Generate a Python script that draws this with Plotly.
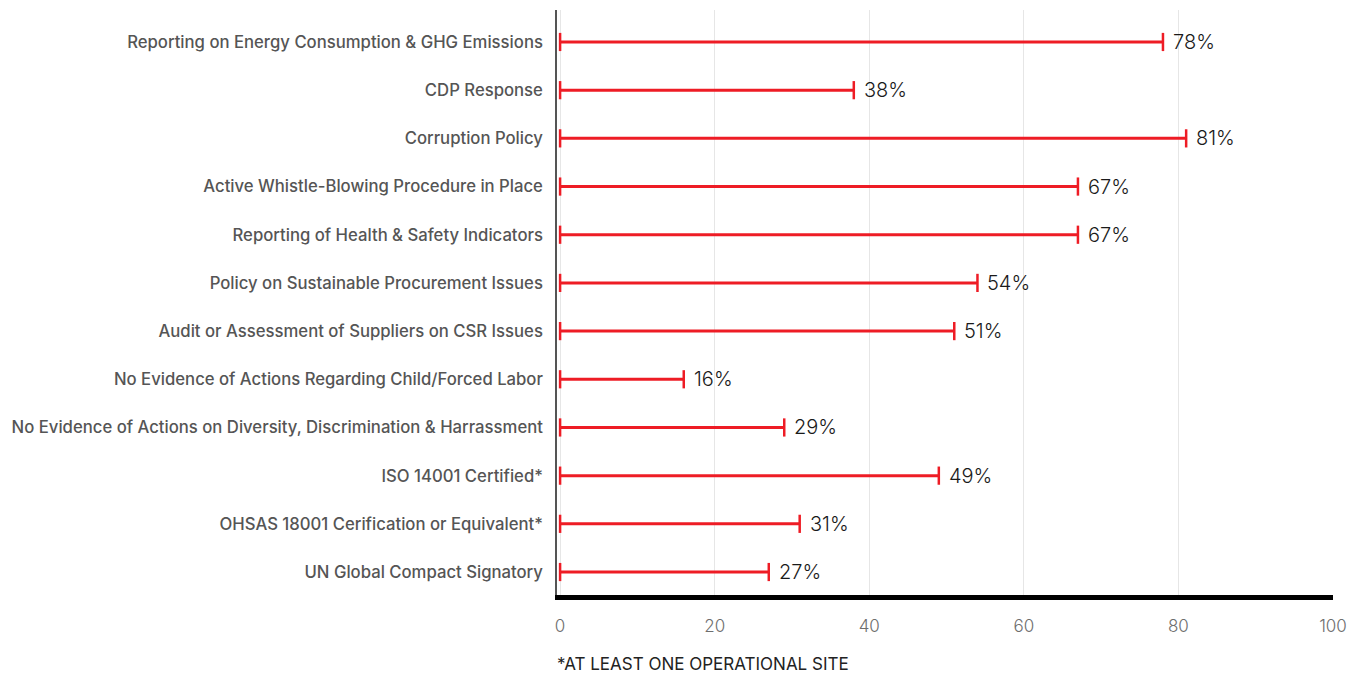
import plotly.graph_objects as go

# Indicators, listed bottom to top as they appear on the y axis
categories = [
    "UN Global Compact Signatory",
    "OHSAS 18001 Cerification or Equivalent*",
    "ISO 14001 Certified*",
    "No Evidence of Actions on Diversity, Discrimination & Harrassment",
    "No Evidence of Actions Regarding Child/Forced Labor",
    "Audit or Assessment of Suppliers on CSR Issues",
    "Policy on Sustainable Procurement Issues",
    "Reporting of Health & Safety Indicators",
    "Active Whistle-Blowing Procedure in Place",
    "Corruption Policy",
    "CDP Response",
    "Reporting on Energy Consumption & GHG Emissions",
]
values = [27, 31, 49, 29, 16, 51, 54, 67, 67, 81, 38, 78]
x_ticks = [0, 20, 40, 60, 80, 100]

RED = "#ee1c25"
FONT = "Inter"

# Range lines from 0 to each value, capped at both ends
xs, ys = [], []
for cat, v in zip(categories, values):
    xs += [0, v, None]
    ys += [cat, cat, None]

fig = go.Figure()
fig.add_trace(go.Scatter(
    x=xs, y=ys, mode="lines+markers",
    line=dict(color=RED, width=3),
    marker=dict(symbol="line-ns", size=13, line=dict(color=RED, width=2.5)),
    hoverinfo="skip", showlegend=False,
))

# Value labels to the right of each cap
for cat, v in zip(categories, values):
    fig.add_annotation(
        x=v, y=cat, text=f"{v}%", showarrow=False,
        xanchor="left", yanchor="middle", xshift=8,
        font=dict(family=FONT, size=20, color="#1a1a1a", weight=300),
    )

fig.add_annotation(
    xref="paper", yref="paper", x=0, y=-0.118, xshift=-2,
    xanchor="left", yanchor="middle", showarrow=False,
    text="*AT LEAST ONE OPERATIONAL SITE",
    font=dict(family=FONT, size=17, color="#222222"),
)

fig.update_layout(
    width=1364, height=675,
    margin=dict(l=557, r=31, t=10, b=80),
    paper_bgcolor="white", plot_bgcolor="white",
    font=dict(family=FONT),
    xaxis=dict(
        range=[-0.4, 100], tickvals=x_ticks, automargin=False,
        showgrid=True, gridcolor="#e6e6e6", gridwidth=1,
        zeroline=False, showline=True, linecolor="black", linewidth=5,
        ticks="", ticklabelstandoff=12,
        tickfont=dict(family=FONT, size=17, color="#6e6e6e", weight=300),
    ),
    yaxis=dict(
        categoryorder="array", categoryarray=categories,
        range=[-0.477, 11.664], automargin=False,
        showgrid=False, zeroline=False,
        showline=True, linecolor="#555555", linewidth=1.5,
        ticks="", ticklabelstandoff=9,
        tickfont=dict(family=FONT, size=16.7, color="#555555", weight=500),
    ),
)

fig.write_html("out.html")
